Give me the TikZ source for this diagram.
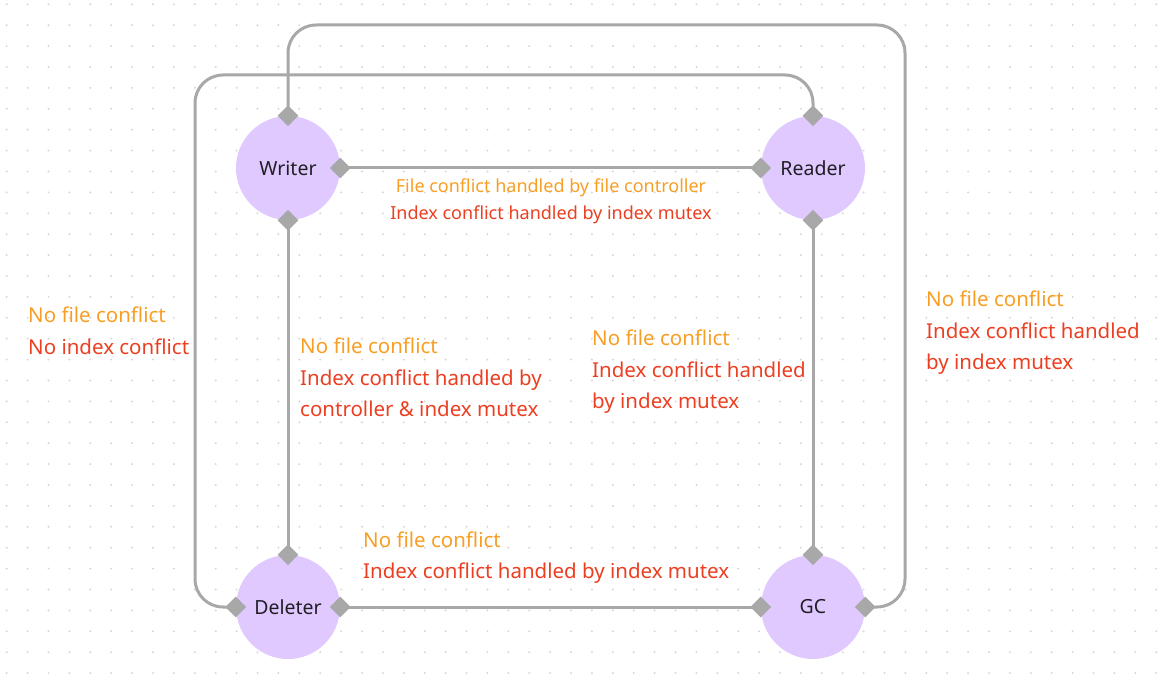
\documentclass[tikz,border=0pt]{standalone}
\usepackage{fontspec}
\setmainfont{Noto Sans}
\usetikzlibrary{shapes.geometric,backgrounds}

\definecolor{nodefill}{RGB}{224,201,255}
\definecolor{linkgray}{RGB}{168,168,168}
\definecolor{filecol}{RGB}{248,158,36}
\definecolor{idxcol}{RGB}{236,62,32}
\definecolor{dotgray}{RGB}{214,214,214}
\definecolor{inkcol}{RGB}{32,30,36}

\tikzset{
  proc/.style={circle, fill=nodefill, minimum size=104pt, inner sep=0pt,
    text=inkcol, font=\fontsize{19.5}{23}\selectfont},
  port/.style={diamond, fill=linkgray, minimum size=21pt, inner sep=0pt},
  link/.style={draw=linkgray, line width=3pt},
  note/.style={align=left, anchor=base west, inner sep=0pt,
    font=\fontsize{20.5}{31.5}\selectfont},
}
\newcommand{\filetxt}[1]{\textcolor{filecol}{#1}}
\newcommand{\idxtxt}[1]{\textcolor{idxcol}{#1}}

\begin{document}
\begin{tikzpicture}[x=1pt, y=-1pt]
    \useasboundingbox (0,0) rectangle (1168,692);

    % processes
    \node[proc] (writer)  at (288,168) {Writer};
    \node[proc] (reader)  at (813,168) {Reader};
    \node[proc] (deleter) at (288,607) {Deleter};
    \node[proc] (gc)      at (813,607) {GC};

    % ports on the circles
    \node[port] (wN) at (writer.north) {};
    \node[port] (wE) at (writer.east) {};
    \node[port] (wS) at (writer.south) {};
    \node[port] (rN) at (reader.north) {};
    \node[port] (rW) at (reader.west) {};
    \node[port] (rS) at (reader.south) {};
    \node[port] (dN) at (deleter.north) {};
    \node[port] (dW) at (deleter.west) {};
    \node[port] (dE) at (deleter.east) {};
    \node[port] (gN) at (gc.north) {};
    \node[port] (gW) at (gc.west) {};
    \node[port] (gE) at (gc.east) {};

    \coordinate (outer) at (905,25);
    \coordinate (inner) at (195,75);

    \begin{scope}[on background layer]
        \foreach \i in {0,...,55} {
            \foreach \j in {0,...,33} {
                \fill[dotgray] ({6.7+20.9*\i},{4.3+20.9*\j}) circle (1.1pt);
            }
        }
        \draw[link] (wE.center) -- (rW.center);
        \draw[link] (wS.center) -- (dN.center);
        \draw[link] (rS.center) -- (gN.center);
        \draw[link] (dE.center) -- (gW.center);
        \draw[link, rounded corners=28pt] (wN.center) |- (outer) |- (gE.center);
        \draw[link, rounded corners=28pt] (rN.center) |- (inner) |- (dW.center);
    \end{scope}

    % conflict notes (placed at the baseline of their last line)
    \node[note, anchor=base, align=center, font=\fontsize{18}{27}\selectfont]
        (wrNote) at (551,220)
        {\filetxt{File conflict handled by file controller}\\
         \idxtxt{Index conflict handled by index mutex}};
    \node[note] (rdNote) at (28,354.5)
        {\filetxt{No file conflict}\\ \idxtxt{No index conflict}};
    \node[note] (wdNote) at (300,417)
        {\filetxt{No file conflict}\\ \idxtxt{Index conflict handled by}\\
         \idxtxt{controller \& index mutex}};
    \node[note] (rgNote) at (592,409)
        {\filetxt{No file conflict}\\ \idxtxt{Index conflict handled}\\
         \idxtxt{by index mutex}};
    \node[note] (wgNote) at (926,370)
        {\filetxt{No file conflict}\\ \idxtxt{Index conflict handled}\\
         \idxtxt{by index mutex}};
    \node[note] (dgNote) at (363,578.5)
        {\filetxt{No file conflict}\\ \idxtxt{Index conflict handled by index mutex}};
\end{tikzpicture}
\end{document}
